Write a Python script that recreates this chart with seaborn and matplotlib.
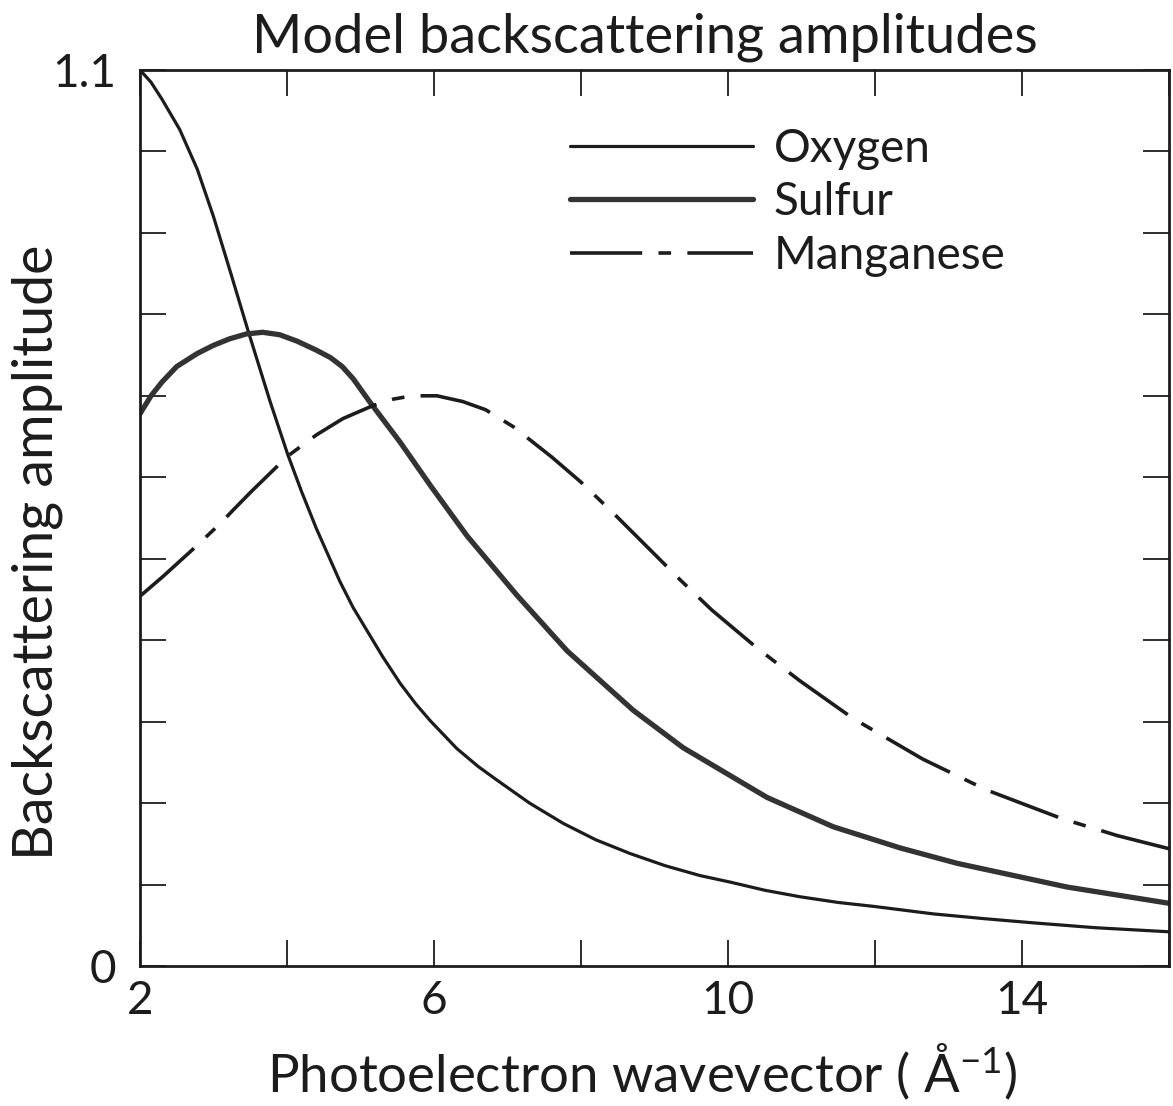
import numpy as np
import pandas as pd
import matplotlib
matplotlib.use("Agg")
import matplotlib.pyplot as plt
from matplotlib.lines import Line2D
from matplotlib.ticker import FixedLocator, FixedFormatter
import seaborn as sns

# Backscattering amplitude curves (k in 1/Angstrom)
oxygen_k = [2.00, 2.15, 2.30, 2.54, 2.78, 3.00, 3.22, 3.47, 3.77, 4.01, 4.20, 4.40, 4.72,
            4.90, 5.10, 5.30, 5.54, 5.75, 5.95, 6.31, 6.60, 6.86, 7.30, 7.76, 8.20, 8.67,
            9.15, 9.62, 10.03, 10.50, 10.98, 11.50, 12.00, 12.79, 13.50, 14.15, 15.00, 16.00]
oxygen_amp = [1.100, 1.085, 1.064, 1.027, 0.978, 0.920, 0.855, 0.780, 0.693, 0.628, 0.582, 0.537, 0.472,
              0.440, 0.410, 0.380, 0.347, 0.322, 0.301, 0.267, 0.245, 0.228, 0.200, 0.175, 0.155, 0.138,
              0.123, 0.111, 0.103, 0.093, 0.085, 0.078, 0.073, 0.064, 0.058, 0.053, 0.047, 0.042]

sulfur_k = [2.00, 2.15, 2.30, 2.50, 2.78, 3.00, 3.22, 3.45, 3.67, 3.90, 4.14, 4.40, 4.59,
            4.75, 4.90, 5.13, 5.54, 5.95, 6.45, 7.13, 7.81, 8.71, 9.39, 10.53, 11.43,
            12.34, 13.12, 14.61, 16.00]
sulfur_amp = [0.678, 0.700, 0.717, 0.736, 0.752, 0.762, 0.770, 0.776, 0.778, 0.775, 0.767, 0.756, 0.747,
              0.736, 0.721, 0.692, 0.643, 0.590, 0.528, 0.455, 0.387, 0.314, 0.268, 0.207, 0.171,
              0.145, 0.126, 0.097, 0.077]

manganese_k = [2.00, 2.31, 2.70, 3.09, 3.27, 3.52, 4.01, 4.40, 4.76, 5.17, 5.45, 5.70, 6.04,
               6.39, 6.70, 7.08, 7.60, 8.00, 8.44, 8.94, 9.35, 9.78, 10.40, 10.98, 11.70,
               12.65, 13.52, 14.54, 15.30, 16.00]
manganese_amp = [0.454, 0.478, 0.510, 0.543, 0.560, 0.583, 0.626, 0.652, 0.672, 0.688, 0.696, 0.700, 0.700,
                 0.693, 0.683, 0.662, 0.625, 0.594, 0.556, 0.511, 0.474, 0.437, 0.390, 0.350, 0.304,
                 0.254, 0.216, 0.181, 0.160, 0.144]

series_names = ["Oxygen", "Sulfur", "Manganese"]
x_ticks = [2, 4, 6, 8, 10, 12, 14, 16]
x_tick_labels = ["2", "", "6", "", "10", "", "14", ""]
y_ticks = [0.0, 0.1, 0.2, 0.3, 0.4, 0.5, 0.6, 0.7, 0.8, 0.9, 1.0, 1.1]
y_tick_labels = ["0", "", "", "", "", "", "", "", "", "", "", "1.1"]

sns.set_style("ticks")
plt.rcParams["font.family"] = ["Lato", "DejaVu Sans"]
plt.rcParams["font.weight"] = "normal"
plt.rcParams["mathtext.fontset"] = "custom"
plt.rcParams["mathtext.rm"] = "Lato"
plt.rcParams["mathtext.default"] = "regular"

W, H = 1173, 1106
fig = plt.figure(figsize=(W / 100, H / 100), dpi=100)
fig.patch.set_facecolor("white")
ax = fig.add_axes([140 / W, 1 - 966 / H, (1169 - 140) / W, (966 - 70) / H])

ink = "#1c1c1c"
sulfur_ink = "#333333"
mn_dash = (0, (20, 4.5, 3.5, 4.5))

sns.lineplot(x=oxygen_k, y=oxygen_amp, ax=ax, sort=False, color=ink, lw=2.3,
             estimator=None)
sns.lineplot(x=sulfur_k, y=sulfur_amp, ax=ax, sort=False, color=sulfur_ink, lw=3.8,
             estimator=None)
sns.lineplot(x=manganese_k, y=manganese_amp, ax=ax, sort=False, color=ink, lw=2.6,
             linestyle=mn_dash, estimator=None)

ax.set_xlim(2, 16)
ax.set_ylim(0, 1.1)
ax.xaxis.set_major_locator(FixedLocator(x_ticks))
ax.xaxis.set_major_formatter(FixedFormatter(x_tick_labels))
ax.yaxis.set_major_locator(FixedLocator(y_ticks))
ax.yaxis.set_major_formatter(FixedFormatter(y_tick_labels))
ax.tick_params(axis="both", direction="in", length=19, width=1.3, color=ink,
               top=True, right=True, labelsize=33, labelcolor=ink)
ax.tick_params(axis="x", pad=10)
ax.tick_params(axis="y", pad=17)
for sp in ax.spines.values():
    sp.set_linewidth(2.0)
    sp.set_color(ink)
ax.set_xlabel("")
ax.set_ylabel("")

# Legend
handles = [
    Line2D([], [], color=ink, lw=2.3),
    Line2D([], [], color=sulfur_ink, lw=3.8),
    Line2D([], [], color=ink, lw=2.6, linestyle=mn_dash),
]
leg = ax.legend(handles, series_names, loc="upper left",
                bbox_to_anchor=(570 / W, 1 - 128 / H), bbox_transform=fig.transFigure,
                frameon=False, fontsize=33, handlelength=4.0, handletextpad=0.45,
                labelspacing=0.25, borderpad=0, borderaxespad=0)
for t in leg.get_texts():
    t.set_color(ink)

fig.text(645 / W, 1 - 52 / H, "Model backscattering amplitudes", ha="center",
         va="baseline", fontsize=39, color=ink)
fig.text(642 / W, 1 - 1092 / H, "Photoelectron wavevector ( Å$^{-1}$)", ha="center",
         va="baseline", fontsize=38, color=ink)
fig.text(37 / W, 1 - 552 / H, "Backscattering amplitude", ha="center", va="center",
         rotation=90, fontsize=40, color=ink)

fig.savefig("out.png", dpi=100, facecolor="white")
